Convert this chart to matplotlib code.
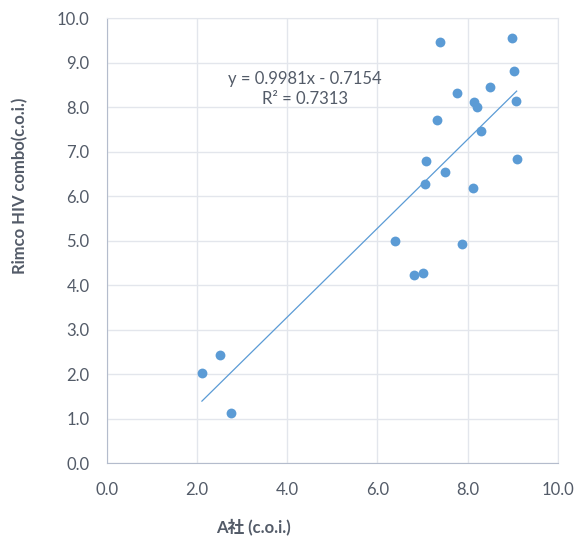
import matplotlib.pyplot as plt
import numpy as np

# Data
company_a = np.array([2.11, 2.52, 2.76, 6.39, 6.81, 7.02, 7.05, 7.08, 7.32, 7.39, 7.49,
                      7.77, 7.88, 8.13, 8.15, 8.20, 8.30, 8.50, 8.99, 9.04, 9.08, 9.09])
rimco = np.array([2.02, 2.42, 1.13, 5.00, 4.22, 4.28, 6.27, 6.79, 7.71, 9.47, 6.53,
                  8.31, 4.93, 6.18, 8.11, 8.01, 7.47, 8.44, 9.54, 8.82, 8.13, 6.84])

# Linear trendline (as reported)
slope = 0.9981
intercept = -0.7154
r_squared = 0.7313

plt.rcParams['font.family'] = ['Lato', 'Noto Sans CJK JP', 'DejaVu Sans']
text_color = '#535b68'
point_color = '#5B9BD5'

fig = plt.figure(figsize=(5.74, 5.38), dpi=100)
ax = fig.add_axes([0.186, 0.1394, 0.7856, 0.8271])

ax.scatter(company_a, rimco, s=50, color=point_color, zorder=3, linewidths=0)
trend_x = np.array([company_a.min(), company_a.max()])
ax.plot(trend_x, slope * trend_x + intercept, color=point_color, linewidth=0.9, zorder=2)

ax.set_xlim(0, 10)
ax.set_ylim(0, 10)
ax.set_xticks(np.arange(0, 10.1, 2))
ax.set_yticks(np.arange(0, 10.1, 1))
ax.xaxis.set_major_formatter(plt.FormatStrFormatter('%.1f'))
ax.yaxis.set_major_formatter(plt.FormatStrFormatter('%.1f'))
ax.tick_params(length=0, labelsize=12, colors=text_color)
ax.tick_params(axis='y', pad=12.5)
ax.tick_params(axis='x', pad=14)
ax.grid(True, color='#e3e6ec', linewidth=1)
ax.set_axisbelow(True)
for side in ['top', 'right']:
    ax.spines[side].set_color('#e3e6ec')
for side in ['left', 'bottom']:
    ax.spines[side].set_color('#b4bccc')

ax.text(4.4, 8.4, f'y = {slope}x - {abs(intercept)}\nR² = {r_squared}',
        ha='center', va='center', fontsize=12, color=text_color, linespacing=1.3)

# Labels
fig.text(253 / 574, 1 - 527 / 538, 'A社 (c.o.i.)', ha='center', va='center',
         fontsize=12, fontweight='bold', color=text_color)
fig.text(20 / 574, 1 - 186 / 538, 'Rimco HIV combo(c.o.i.)', ha='center', va='center',
         rotation=90, fontsize=12, fontweight='bold', color=text_color)

plt.savefig('out.png', dpi=100)
